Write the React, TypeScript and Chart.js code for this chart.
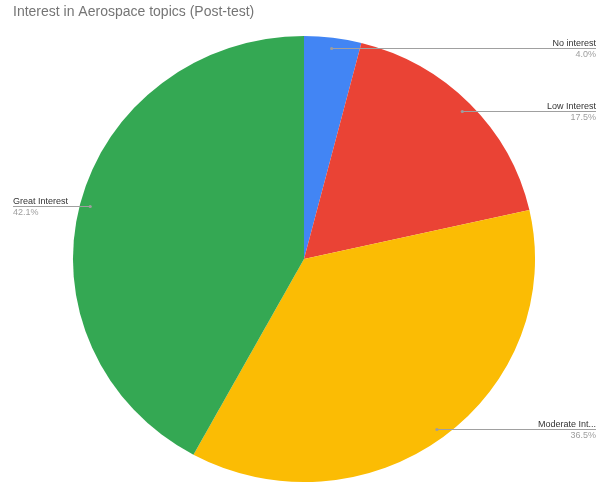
import React, { useEffect, useRef } from "react";
import { Chart, registerables } from "chart.js";

Chart.register(...registerables);

const categories = ["No interest", "Low Interest", "Moderate Interest", "Great Interest"];
const displayLabels = ["No interest", "Low Interest", "Moderate Int...", "Great Interest"];
const values = [4.0, 17.5, 36.5, 42.1];
const percentLabels = ["4.0%", "17.5%", "36.5%", "42.1%"];
const colors = ["#4285F4", "#EA4335", "#FBBC04", "#34A853"];
const title = "Interest in Aerospace topics (Post-test)";

const STRETCH_X = 1.036;

const stretchPlugin = {
  id: "stretchX",
  beforeDatasetsDraw(chart: any) {
    const ctx = chart.ctx;
    const arc = chart.getDatasetMeta(0).data[0];
    const cx = arc ? arc.x : chart.width / 2;
    ctx.save();
    ctx.translate(cx, 0);
    ctx.scale(STRETCH_X, 1);
    ctx.translate(-cx, 0);
  },
  afterDatasetsDraw(chart: any) {
    chart.ctx.restore();
  },
};

const labelPlugin = {
  id: "leaderLabels",
  afterDatasetsDraw(chart: any) {
    const ctx = chart.ctx;
    const meta = chart.getDatasetMeta(0);
    const W = chart.width;
    ctx.save();
    meta.data.forEach((arc: any, i: number) => {
      const { x, y, startAngle, endAngle, outerRadius } = arc.getProps(
        ["x", "y", "startAngle", "endAngle", "outerRadius"],
        true
      );
      const mid = (startAngle + endAngle) / 2;
      const r = outerRadius * 0.955;
      const px = x + Math.cos(mid) * r * STRETCH_X;
      const py = Math.round(y + Math.sin(mid) * r) + 0.5;
      const right = Math.cos(mid) >= 0;
      const endX = right ? W - 9 : 13;
      ctx.strokeStyle = "#a0a0a0";
      ctx.lineWidth = 1;
      ctx.beginPath();
      ctx.moveTo(px, py);
      ctx.lineTo(endX, py);
      ctx.stroke();
      ctx.fillStyle = "#9e9e9e";
      ctx.beginPath();
      ctx.arc(px, py, 1.6, 0, Math.PI * 2);
      ctx.fill();
      ctx.font = "9px Arial, 'Liberation Sans', sans-serif";
      ctx.textAlign = right ? "right" : "left";
      ctx.textBaseline = "alphabetic";
      ctx.fillStyle = "#333333";
      ctx.fillText(displayLabels[i], endX, py - 2.5);
      ctx.fillStyle = "#9e9e9e";
      ctx.textBaseline = "top";
      ctx.fillText(percentLabels[i], endX, py + 1.5);
    });
    ctx.restore();
  },
};

const titlePlugin = {
  id: "customTitle",
  afterDraw(chart: any) {
    const ctx = chart.ctx;
    ctx.save();
    ctx.font = "14px Arial, 'Liberation Sans', sans-serif";
    ctx.fillStyle = "#757575";
    ctx.textAlign = "left";
    ctx.textBaseline = "middle";
    ctx.fillText(title, 13, 12);
    ctx.restore();
  },
};

export default function App() {
  const ref = useRef<HTMLCanvasElement>(null);
  useEffect(() => {
    document.body.style.margin = "0";
    const chart = new Chart(ref.current!, {
      type: "pie",
      data: {
        labels: categories,
        datasets: [
          {
            data: values,
            backgroundColor: colors,
            borderWidth: 0,
          },
        ],
      },
      options: {
        responsive: false,
        animation: false,
        layout: { padding: { top: 36, bottom: 3, left: 3, right: 0 } },
        plugins: {
          legend: { display: false },
          title: { display: false },
          tooltip: { enabled: false },
        },
      },
      plugins: [stretchPlugin, labelPlugin, titlePlugin],
    });
    return () => chart.destroy();
  }, []);
  return (
    <div style={{ width: 605, height: 485, background: "#fff" }}>
      <canvas ref={ref} width={605} height={485} />
    </div>
  );
}
